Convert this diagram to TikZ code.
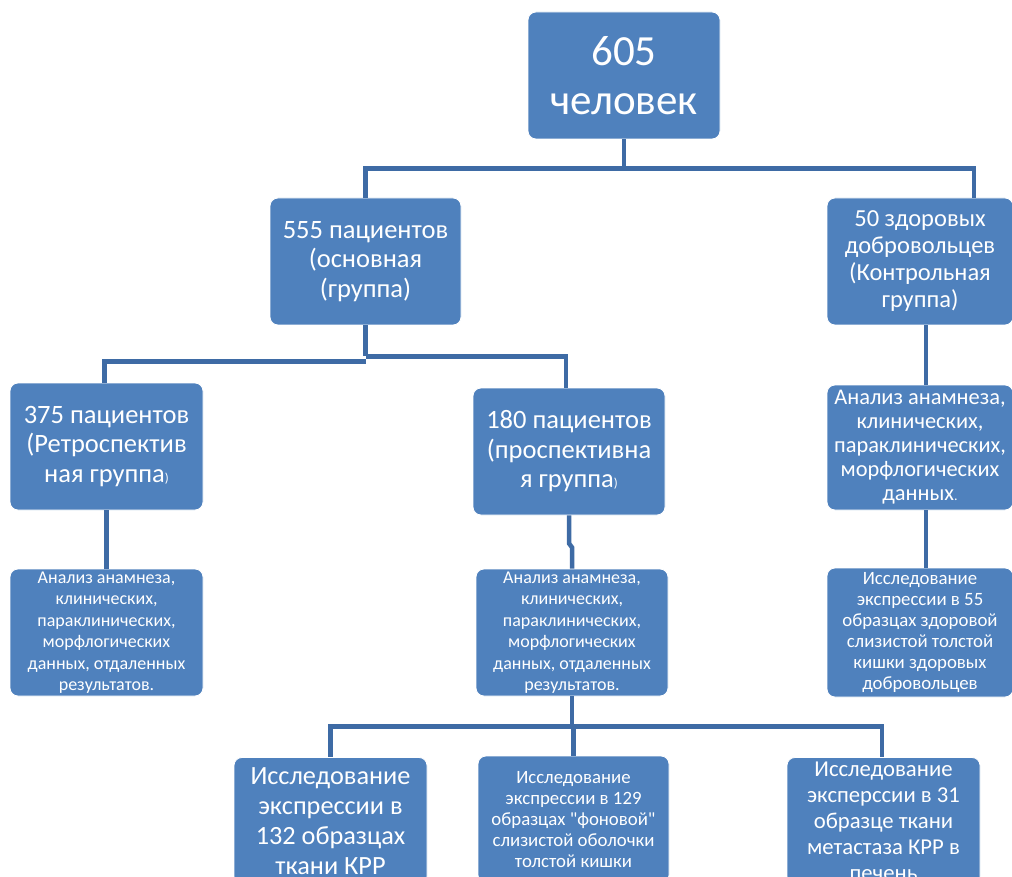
\documentclass[tikz,border=0pt]{standalone}
\usepackage{fontspec}
\setmainfont{Carlito}[Ligatures=TeXOff]
\definecolor{boxblue}{RGB}{79,129,189}
\definecolor{linkblue}{RGB}{62,107,165}
\tikzset{
  box/.style={draw=white, line width=0.8pt, fill=boxblue, rounded corners=8pt, text=white, align=center, inner sep=1pt},
  conn/.style={draw=linkblue, line width=4.5pt},
  fa/.style={font=\fontsize{43}{49}\selectfont},
  fb/.style={font=\fontsize{26.5}{29.5}\selectfont},
  fbb/.style={font=\fontsize{26.3}{30}\selectfont},
  fc/.style={font=\fontsize{24.5}{27}\selectfont},
  fg/.style={font=\fontsize{22.7}{26}\selectfont},
  fd/.style={font=\fontsize{22.4}{24}\selectfont},
  fe/.style={font=\fontsize{18}{21.5}\selectfont},
  ff/.style={font=\fontsize{18.8}{21}\selectfont},
}
\begin{document}
\begin{tikzpicture}[x=1pt,y=-1pt]
\useasboundingbox (0,0) rectangle (1012,877);
% nodes
\node[box, fa, minimum width=192pt, minimum height=127pt] (top) at (624,75.5) {605\\человек};
\node[box, fb, minimum width=191pt, minimum height=127pt] (n555) at (365.5,261.5) {555 пациентов\\(основная\\(группа)};
\node[box, fc, minimum width=186pt, minimum height=127pt] (n50) at (920,261.5) {50 здоровых\\добровольцев\\(Контрольная\\группа)};
\node[box, fb, minimum width=193pt, minimum height=127pt] (n375) at (106.5,446.5) {375 пациентов\\(Ретроспектив\\ная группа{\fontsize{13}{13}\selectfont)}};
\node[box, fb, minimum width=192pt, minimum height=127pt] (n180) at (569,451.5) {180 пациентов\\(проспективна\\я группа{\fontsize{13}{13}\selectfont)}};
\node[box, fe, minimum width=193pt, minimum height=127pt] (a375) at (106.5,632.5) {Анализ анамнеза,\\клинических,\\параклинических,\\морфлогических\\данных, отдаленных\\результатов.};
\node[box, fe, minimum width=192pt, minimum height=127pt] (a180) at (572,632.5) {Анализ анамнеза,\\клинических,\\параклинических,\\морфлогических\\данных, отдаленных\\результатов.};
\node[box, fd, minimum width=186pt, minimum height=125pt] (a50) at (920,447.5) {Анализ анамнеза,\\клинических,\\параклинических,\\морфлогических\\данных{\fontsize{14}{14}\selectfont.}};
\node[box, ff, minimum width=186pt, minimum height=129pt] (e50) at (920,632.5) {Исследование\\экспрессии в 55\\образцах здоровой\\слизистой толстой\\кишки здоровых\\добровольцев};
\node[box, fbb, minimum width=193pt, minimum height=127pt] (b1) at (330.5,821) {Исследование\\экспрессии в\\132 образцах\\ткани КРР};
\node[box, ff, minimum width=191pt, minimum height=127pt] (b2) at (573.5,819.5) {Исследование\\экспрессии в 129\\образцах "фоновой"\\слизистой оболочки\\толстой кишки};
\node[box, fg, minimum width=193pt, minimum height=127pt] (b3) at (883.5,821) {Исследование\\эксперссии в 31\\образце ткани\\метастаза КРР в\\печень};
% connectors
\draw[conn] (top.south) -- ++(0,29) coordinate (j1);
\draw[conn] (j1) -| (n555.north);
\draw[conn] (j1) -| ([xshift=54pt]n50.north);
\draw[conn] (n555.south) -- ++(0,31) coordinate (j2);
\draw[conn] ([yshift=-5pt]j2) -| ([xshift=-2pt]n375.north);
\draw[conn] (j2) -| ([xshift=-3pt]n180.north);
\draw[conn] (n375.south) -- (n375.south |- a375.north);
\draw[conn] (n180.south) -- ++(0,28) -- ++(3,4) -- (a180.north);
\draw[conn] ([xshift=6pt]n50.south) -- ([xshift=6pt]a50.north);
\draw[conn] ([xshift=6pt]a50.south) -- ([xshift=6pt]e50.north);
\draw[conn] (a180.south) -- ++(0,30) coordinate (j3);
\draw[conn] (j3) -| (b1.north);
\draw[conn] (j3) -| (b2.north);
\draw[conn] (j3) -| ([xshift=-1.5pt]b3.north);
\end{tikzpicture}
\end{document}
